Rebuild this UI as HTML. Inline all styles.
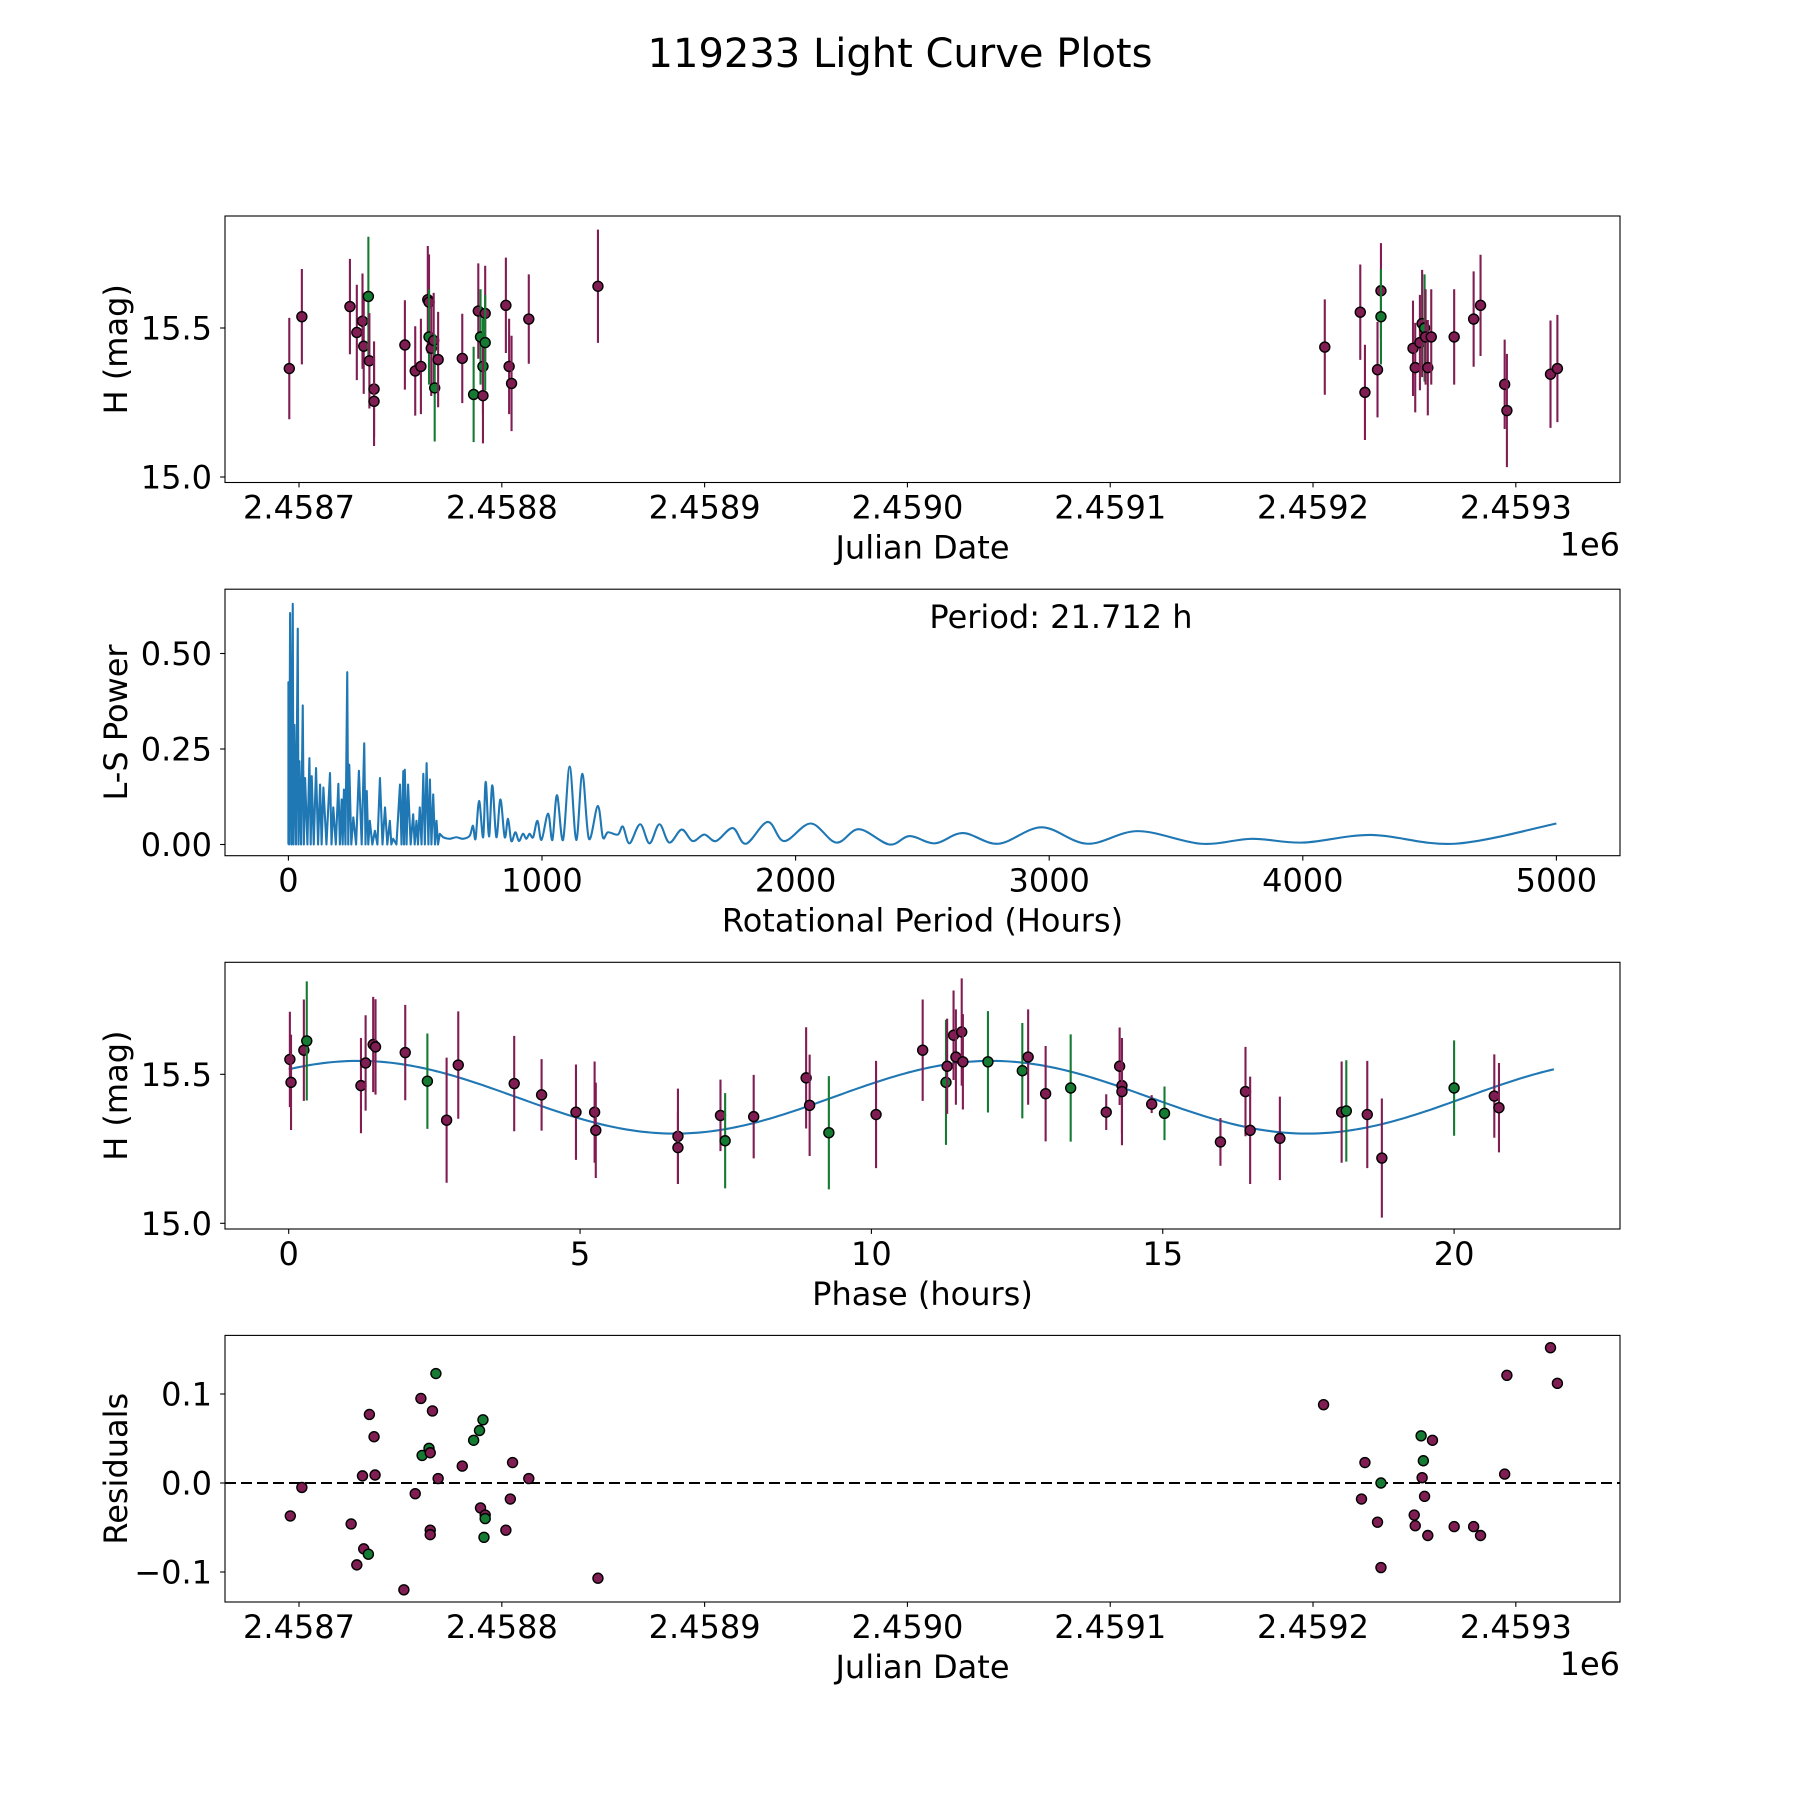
<!DOCTYPE html>
<html><head><meta charset="utf-8">
<style>
html,body{margin:0;padding:0;background:#fff;}
svg{display:block;font-family:"DejaVu Sans","Liberation Sans",sans-serif;}
</style></head>
<body>
<svg id="fig" width="1800" height="1800" viewBox="0 0 1800 1800" xmlns="http://www.w3.org/2000/svg">
<rect x="0" y="0" width="1800" height="1800" fill="#fff"/>
<text x="900" y="67" font-size="40" text-anchor="middle">119233 Light Curve Plots</text>
</svg>
<script>
// ---- Panel 1: light curve (Julian Date vs H) ----
const lcDates = [2458695.2,2458701.4,2458725.1,2458728.5,2458731.3,2458731.9,2458734.2,2458734.7,2458737.0,2458737.0,
2458752.2,2458757.3,2458760.1,2458763.5,2458764.1,2458764.1,2458765.2,2458766.4,2458766.9,2458768.6,
2458780.5,2458786.1,2458788.4,2458789.5,2458790.7,2458790.7,2458791.8,2458791.8,2458802.0,2458803.6,
2458804.8,2458813.3,2458847.4,
2459205.8,2459223.3,2459225.6,2459231.8,2459233.5,2459233.5,2459249.3,2459250.4,2459252.7,2459253.8,
2459255.0,2459255.5,2459256.6,2459258.3,2459269.6,2459279.2,2459282.6,2459294.5,2459295.6,2459317.1,2459320.5];
const lcMags = [15.364,15.538,15.572,15.485,15.523,15.439,15.606,15.390,15.295,15.254,
15.443,15.356,15.371,15.595,15.587,15.470,15.432,15.458,15.299,15.394,
15.398,15.277,15.557,15.470,15.371,15.273,15.549,15.451,15.576,15.371,
15.314,15.530,15.640,
15.436,15.553,15.284,15.360,15.625,15.538,15.432,15.367,15.451,15.515,
15.500,15.470,15.367,15.470,15.470,15.530,15.576,15.311,15.223,15.345,15.364];
const lcErrs = [0.17,0.16,0.16,0.16,0.16,0.16,0.20,0.16,0.16,0.15,
0.15,0.15,0.16,0.18,0.16,0.16,0.16,0.16,0.18,0.16,
0.15,0.16,0.16,0.16,0.16,0.16,0.16,0.16,0.16,0.16,
0.16,0.15,0.19,
0.16,0.16,0.16,0.16,0.16,0.16,0.16,0.15,0.16,0.18,
0.18,0.16,0.16,0.16,0.16,0.16,0.17,0.15,0.19,0.18,0.18];
const lcBands = ['p','p','p','p','p','p','g','p','p','p','p','p','p','p','p','g','p','p','g','p',
'p','g','p','g','g','p','p','g','p','p','p','p','p',
'p','p','p','p','p','g','p','p','p','p','g','p','p','p','p','p','p','p','p','p','p'];
const dateTicks = [2458700,2458800,2458900,2459000,2459100,2459200,2459300];
const dateTickLabels = ['2.4587','2.4588','2.4589','2.4590','2.4591','2.4592','2.4593'];
const magTicks = [15.0,15.5];
const magTickLabels = ['15.0','15.5'];

// ---- Panel 2: Lomb-Scargle periodogram ----
const lsPeriods = [0,0.1,3,6.7,12,17.2,20,23.8,30,36.9,40,43.5,50,56.6,61,65.8,75,82.8,88,92,100,109,117,125,131,138,150,164,170,177,187,197,203,210,214,219,225,232,236,240,248,256,267,278,289,299,304,309,315,321,331,341,351,361,371,381,390,400,406,413,426,440,446,453,456,459,466,472,482,492,498,505,511,518,525,532,538,545,552,558,564,571,578,584,590,597,
610,636,662,688,715,728,738,752,768,778,791,804,820,836,853,866,879,895,909,925,938,951,965,982,998,1024,1041,1059,1083,1109,1135,1159,1185,1220,1240,1260,1299,1319,1345,1387,1424,1463,1502,1551,1594,1640,1686,1752,1804,1890,1955,2060,2160,2250,2370,2450,2550,2660,2800,2970,3150,3350,3600,3800,4000,4270,4600,5000];
const lsPowers = [0,0.425,0,0.606,0,0.630,0,0.313,0,0.565,0,0.218,0,0.364,0,0.174,0,0.226,0,0.179,0,0.200,0,0.157,0,0.149,0,0.187,0,0.097,0,0.159,0,0.118,0,0.144,0,0.451,0,0.209,0,0.071,0,0.193,0,0.265,0,0.140,0,0.062,0,0.036,0,0.174,0,0.097,0,0.062,0,0.015,0,0.157,0,0.192,0,0.196,0,0.157,0,0.079,0,0.062,0,0.097,0,0.185,0,0.213,0,0.170,0,0.131,0,0.062,0,0.028,
0.019,0.015,0.019,0.015,0.023,0.049,0.015,0.114,0.019,0.164,0.021,0.155,0.019,0.118,0.019,0.067,0.009,0.032,0.009,0.028,0.015,0.028,0.019,0.062,0.012,0.081,0.012,0.129,0.012,0.204,0.012,0.185,0.015,0.101,0.019,0.032,0.026,0.047,0.003,0.053,0.003,0.053,0.005,0.039,0.009,0.026,0.009,0.043,0.002,0.059,0.009,0.055,0.005,0.040,0.0,0.022,0.003,0.030,0.002,0.045,0.002,0.035,0.002,0.015,0.005,0.025,0.002,0.055];
const periodTicks = [0,1000,2000,3000,4000,5000];
const powerTicks = [0,0.25,0.5];
const powerTickLabels = ['0.00','0.25','0.50'];

// ---- Panel 3: phased light curve ----
const phaseVals = [0.02,0.04,0.26,0.31,1.24,1.32,1.45,1.49,2.00,2.38,2.71,2.91,3.87,4.34,4.93,5.25,5.27,6.68,6.68,7.41,7.49,7.98,8.88,8.94,9.27,10.08,10.88,11.28,11.30,11.41,11.45,11.55,11.57,12.00,12.59,12.69,12.99,13.42,14.03,14.26,14.30,14.30,14.81,15.03,15.99,16.42,16.50,17.01,18.07,18.15,18.51,18.76,20.00,20.69,20.77];
const phaseMags = [15.550,15.473,15.581,15.612,15.462,15.538,15.600,15.592,15.573,15.477,15.346,15.531,15.469,15.431,15.373,15.373,15.312,15.292,15.254,15.362,15.277,15.358,15.488,15.396,15.304,15.365,15.581,15.473,15.527,15.631,15.558,15.642,15.542,15.542,15.512,15.558,15.435,15.454,15.373,15.527,15.462,15.442,15.400,15.369,15.273,15.442,15.312,15.285,15.373,15.377,15.365,15.219,15.454,15.427,15.388];
const phaseErrs = [0.16,0.16,0.17,0.20,0.16,0.16,0.16,0.16,0.16,0.16,0.21,0.18,0.16,0.12,0.16,0.17,0.16,0.16,0.12,0.12,0.16,0.14,0.17,0.17,0.19,0.18,0.17,0.21,0.16,0.15,0.16,0.18,0.16,0.17,0.16,0.16,0.16,0.18,0.06,0.13,0.16,0.18,0.03,0.09,0.08,0.15,0.18,0.14,0.17,0.17,0.18,0.20,0.16,0.14,0.15];
const phaseBands = ['p','p','p','g','p','p','p','p','p','g','p','p','p','p','p','p','p','p','p','p','g','p','p','p','g','p','p','g','p','p','p','p','p','g','g','p','p','g','p','p','p','p','p','g','p','p','p','p','p','g','p','p','g','p','p'];
const fitParams = [15.423, 0.122, 1.2, 10.856]; // mean, amplitude, peak phase, half period
const fitRange = [0, 21.712];
const phaseTicks = [0,5,10,15,20];

// ---- Panel 4: residuals ----
const resDates = [2458695.7,2458701.4,2458725.7,2458728.5,2458731.3,2458731.9,2458734.2,2458734.7,2458737.0,2458737.5,2458751.7,2458757.3,2458760.1,2458760.7,2458764.1,2458764.7,2458764.7,2458764.7,2458765.8,2458767.5,2458768.6,2458780.5,2458786.1,2458789.0,2458789.5,2458790.7,2458791.2,2458791.8,2458791.8,2458802.0,2458804.2,2458805.3,2458813.3,2458847.4,
2459205.2,2459223.9,2459225.6,2459231.8,2459233.5,2459233.5,2459249.9,2459250.4,2459253.3,2459253.8,2459254.4,2459255.0,2459256.6,2459258.9,2459269.6,2459279.2,2459282.6,2459294.5,2459295.6,2459317.1,2459320.5];
const resVals = [-0.037,-0.005,-0.046,-0.092,0.008,-0.074,-0.080,0.077,0.052,0.009,-0.120,-0.012,0.095,0.031,0.039,0.034,-0.053,-0.058,0.081,0.123,0.005,0.019,0.048,0.059,-0.028,0.071,-0.061,-0.036,-0.040,-0.053,-0.018,0.023,0.005,-0.107,
0.088,-0.018,0.023,-0.044,-0.095,0.000,-0.036,-0.048,0.053,0.006,0.025,-0.015,-0.059,0.048,-0.049,-0.049,-0.059,0.010,0.121,0.152,0.112];
const resBands = ['p','p','p','p','p','p','g','p','p','p','p','p','p','g','g','p','p','p','p','g','p','p','g','g','p','g','g','p','g','p','p','p','p','p',
'p','p','p','p','p','g','p','p','g','p','g','p','p','p','p','p','p','p','p','p','p'];
const resTicks = [-0.1,0,0.1];
const resTickLabels = ['\u22120.1','0.0','0.1'];

const NS = 'http://www.w3.org/2000/svg';
const svg = document.getElementById('fig');
const COL = {p:'#801d52', g:'#157a32'};
const L = 225, R = 1620;
const P1 = {t:216, b:482.5}, P2 = {t:589.2, b:855.7}, P3 = {t:962.3, b:1229}, P4 = {t:1335.4, b:1602};
function xDate(d){ return L + (d - 2458663.5) * 2.028; }
function y1(m){ return 477 - (m - 15) * 298; }
function xPer(p){ return 288.4 + p * 0.2536; }
function y2(v){ return 844.5 - v * 382; }
function xPh(t){ return 288.7 + t * 58.27; }
function y3(m){ return 1223.3 - (m - 15) * 298; }
function y4(r){ return 1483 - r * 890; }

function mk(tag, attrs, parent){
  const e = document.createElementNS(NS, tag);
  for (const k in attrs) e.setAttribute(k, attrs[k]);
  (parent || svg).appendChild(e);
  return e;
}
function txt(s, x, y, anchor, size, parent){
  const t = mk('text', {x:x, y:y, 'text-anchor':anchor, 'font-size':size}, parent);
  t.textContent = s;
  return t;
}
function frame(P, name){
  const g = mk('g', {});
  
  
  const r = mk('rect', {x:L, y:P.t, width:R-L, height:P.b-P.t, fill:'none', stroke:'#000', 'stroke-width':1.1}, g);
  
  
  return g;
}
function xticks(g, vals, labels, fx, P, name){
  vals.forEach((v, i) => {
    const x = fx(v);
    mk('line', {x1:x, x2:x, y1:P.b, y2:P.b+4.9, stroke:'#000', 'stroke-width':1.1}, g);
    const t = txt(labels[i], x, P.b + 36, 'middle', 32, g);
    
    
  });
}
function yticks(g, vals, labels, fy, name){
  vals.forEach((v, i) => {
    const y = fy(v);
    mk('line', {x1:L-4.9, x2:L, y1:y, y2:y, stroke:'#000', 'stroke-width':1.1}, g);
    const t = txt(labels[i], 212, y + 11.5, 'end', 32, g);
    
    
  });
}
function ylabel(g, s, P, name){
  const cy = (P.t + P.b) / 2;
  const t = txt(s, 127, cy, 'middle', 32, g);
  t.setAttribute('transform', 'rotate(-90 127 ' + cy + ')');
  
  
}
function xlabel(g, s, P, name){
  const t = txt(s, (L + R) / 2, P.b + 76, 'middle', 32, g);
  
  
}
function errpoint(g, x, y, yHi, yLo, c, name){
  const l = mk('line', {x1:x, x2:x, y1:yHi, y2:yLo, stroke:c, 'stroke-width':2.1}, g);
  
  
  const d = mk('circle', {cx:x, cy:y, r:5, fill:c, stroke:'#000', 'stroke-width':1.4}, g);
  
  
}
function clip(id, P){
  const cp = mk('clipPath', {id:id});
  mk('rect', {x:L, y:P.t, width:R-L, height:P.b-P.t}, cp);
}

// Panel 1
const g1 = frame(P1, 'light-curve-panel');
clip('c1', P1);
const d1 = mk('g', {'clip-path':'url(#c1)'}, g1);
lcDates.forEach((d, i) => {
  errpoint(d1, xDate(d), y1(lcMags[i]), y1(lcMags[i] + lcErrs[i]), y1(lcMags[i] - lcErrs[i]), COL[lcBands[i]], 'light-curve-point');
});
xticks(g1, dateTicks, dateTickLabels, xDate, P1, 'date-x');
yticks(g1, magTicks, magTickLabels, y1, 'mag-y');
xlabel(g1, 'Julian Date', P1, 'x-axis-title-julian-date');
ylabel(g1, 'H (mag)', P1, 'y-axis-title-h-mag');
let off1 = txt('1e6', R, P1.b + 73, 'end', 32, g1);



// Panel 2
const g2 = frame(P2, 'periodogram-panel');
clip('c2', P2);
let dStr = '';
const pts = lsPeriods.map((p, i) => [xPer(p), y2(lsPowers[i])]);
pts.forEach((pt, i) => {
  if (i === 0) { dStr += 'M' + pt[0].toFixed(2) + ' ' + pt[1].toFixed(2); return; }
  if (lsPeriods[i] <= 610) { dStr += 'L' + pt[0].toFixed(2) + ' ' + pt[1].toFixed(2); return; }
  const p0 = pts[i-2] || pts[i-1], p1 = pts[i-1], p2 = pt, p3 = pts[i+1] || pt;
  const c1x = p1[0] + (p2[0] - p0[0]) / 6, c1y = p1[1] + (p2[1] - p0[1]) / 6;
  const c2x = p2[0] - (p3[0] - p1[0]) / 6, c2y = p2[1] - (p3[1] - p1[1]) / 6;
  dStr += 'C' + c1x.toFixed(2) + ' ' + c1y.toFixed(2) + ' ' + c2x.toFixed(2) + ' ' + c2y.toFixed(2) + ' ' + p2[0].toFixed(2) + ' ' + p2[1].toFixed(2);
});
const ls = mk('path', {d:dStr, fill:'none', stroke:'#1f77b4', 'stroke-width':2.1, 'stroke-linejoin':'round', 'clip-path':'url(#c2)'}, g2);


xticks(g2, periodTicks, periodTicks.map(String), xPer, P2, 'period-x');
yticks(g2, powerTicks, powerTickLabels, y2, 'power-y');
xlabel(g2, 'Rotational Period (Hours)', P2, 'x-axis-title-rotational-period');
ylabel(g2, 'L-S Power', P2, 'y-axis-title-ls-power');
let pl = txt('Period: 21.712 h', 1061, 628, 'middle', 32, g2);



// Panel 3
const g3 = frame(P3, 'phase-panel');
clip('c3', P3);
const d3 = mk('g', {'clip-path':'url(#c3)'}, g3);
let fd = '';
for (let k = 0; k <= 300; k++) {
  const t = fitRange[0] + (fitRange[1] - fitRange[0]) * k / 300;
  const m = fitParams[0] + fitParams[1] * Math.cos(2 * Math.PI * (t - fitParams[2]) / fitParams[3]);
  fd += (k ? 'L' : 'M') + xPh(t).toFixed(2) + ' ' + y3(m).toFixed(2);
}
const fit = mk('path', {d:fd, fill:'none', stroke:'#1f77b4', 'stroke-width':2.1}, d3);


phaseVals.forEach((t, i) => {
  errpoint(d3, xPh(t), y3(phaseMags[i]), y3(phaseMags[i] + phaseErrs[i]), y3(phaseMags[i] - phaseErrs[i]), COL[phaseBands[i]], 'phase-point');
});
xticks(g3, phaseTicks, phaseTicks.map(String), xPh, P3, 'phase-x');
yticks(g3, magTicks, magTickLabels, y3, 'phase-mag-y');
xlabel(g3, 'Phase (hours)', P3, 'x-axis-title-phase');
ylabel(g3, 'H (mag)', P3, 'y-axis-title-phase-h-mag');

// Panel 4
const g4 = frame(P4, 'residuals-panel');
const zl = mk('line', {x1:L, x2:R, y1:y4(0), y2:y4(0), stroke:'#000', 'stroke-width':2, 'stroke-dasharray':'11 5'}, g4);


resDates.forEach((d, i) => {
  const c = mk('circle', {cx:xDate(d), cy:y4(resVals[i]), r:5, fill:COL[resBands[i]], stroke:'#000', 'stroke-width':1.4}, g4);
  
  
});
xticks(g4, dateTicks, dateTickLabels, xDate, P4, 'res-date-x');
yticks(g4, resTicks, resTickLabels, y4, 'residual-y');
xlabel(g4, 'Julian Date', P4, 'x-axis-title-res-julian-date');
ylabel(g4, 'Residuals', P4, 'y-axis-title-residuals');
let off4 = txt('1e6', R, P4.b + 73, 'end', 32, g4);


</script>
</body></html>
